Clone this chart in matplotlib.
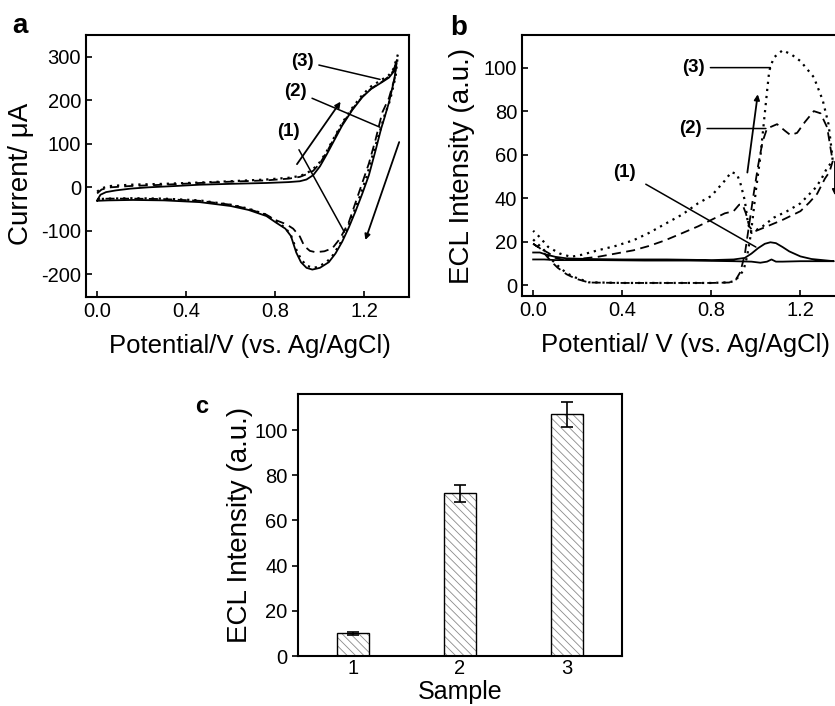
import matplotlib
matplotlib.use("Agg")
import matplotlib.pyplot as plt
import numpy as np

plt.rcParams['font.family'] = ['Liberation Sans', 'DejaVu Sans']
plt.rcParams['axes.unicode_minus'] = False
plt.rcParams['hatch.linewidth'] = 0.6

# ---------------- Panel a: CV curves ----------------
cv1_v = [0.00, 0.015, 0.04, 0.085, 0.15, 0.23, 0.35, 0.46, 0.6, 0.76, 0.86, 0.91, 0.94, 0.97, 1.0, 1.03,
         1.056, 1.1, 1.146, 1.19, 1.23, 1.28, 1.31, 1.33, 1.345,
         1.335, 1.31, 1.29, 1.275, 1.25, 1.22, 1.19, 1.16, 1.13, 1.1, 1.07, 1.04, 1.0, 0.966, 0.94, 0.915,
         0.894, 0.87, 0.845, 0.8, 0.76, 0.68, 0.6, 0.46, 0.3, 0.16, 0.05, 0.0]
cv1_i = [-30, -17, -11, -7, -3, 0, 3, 6, 8, 10, 12, 14, 18, 28, 48, 75,
         100, 142, 178, 207, 226, 242, 252, 265, 292,
         250, 195, 160, 135, 85, 28, -15, -55, -92, -125, -152, -172, -185, -189, -185, -172,
         -150, -112, -95, -80, -66, -52, -43, -34, -30, -29, -30, -31]

cv2_v = [0.00, 0.02, 0.06, 0.15, 0.3, 0.46, 0.6, 0.76, 0.86, 0.91, 0.94, 0.97, 1.0, 1.03, 1.056, 1.1,
         1.146, 1.19, 1.23, 1.28, 1.31, 1.33, 1.345,
         1.335, 1.31, 1.28, 1.25, 1.22, 1.18, 1.15, 1.13, 1.09, 1.056, 1.02, 0.98, 0.955, 0.93, 0.91,
         0.88, 0.85, 0.8, 0.76, 0.68, 0.6, 0.46, 0.3, 0.16, 0.05, 0.0]
cv2_i = [-14, -5, 0, 3, 6, 10, 13, 16, 20, 24, 30, 38, 55, 80, 105, 145,
         180, 208, 227, 243, 255, 268, 290,
         250, 205, 172, 110, 55, -5, -50, -80, -118, -140, -147, -149, -146, -135, -113,
         -95, -85, -75, -63, -50, -40, -31, -27, -26, -26, -27]

cv3_v = [0.00, 0.02, 0.06, 0.15, 0.3, 0.46, 0.6, 0.76, 0.86, 0.91, 0.94, 0.97, 1.0, 1.03, 1.056, 1.1,
         1.146, 1.19, 1.23, 1.28, 1.31, 1.33, 1.35,
         1.34, 1.315, 1.29, 1.27, 1.24, 1.21, 1.18, 1.15, 1.12, 1.09, 1.06, 1.03, 0.99, 0.97, 0.94, 0.915,
         0.894, 0.87, 0.845, 0.8, 0.76, 0.68, 0.6, 0.46, 0.3, 0.16, 0.05, 0.0]
cv3_i = [-10, -2, 3, 6, 8, 11, 14, 18, 22, 26, 32, 42, 58, 82, 107, 148,
         183, 212, 232, 248, 258, 272, 305,
         255, 200, 165, 130, 80, 25, -20, -60, -98, -130, -155, -172, -183, -185, -180, -165,
         -143, -110, -93, -78, -63, -49, -40, -30, -26, -25, -26, -27]

a_xticks = [0.0, 0.4, 0.8, 1.2]
a_yticks = [-200, -100, 0, 100, 200, 300]

# ---------------- Panel b: ECL curves ----------------
ecl1_v = [0.0, 0.03, 0.06, 0.1, 0.15, 0.25, 0.4, 0.6, 0.8, 0.9, 0.95, 0.98, 1.01, 1.04, 1.065, 1.09, 1.12,
          1.15, 1.2, 1.25, 1.3, 1.35,
          1.3, 1.2, 1.12, 1.09, 1.07, 1.05, 1.02, 0.98, 0.9, 0.7, 0.5, 0.3, 0.1, 0.05, 0.0]
ecl1_i = [15, 15, 14, 13, 12.3, 12, 11.8, 11.8, 11.5, 11.8, 12.5, 14.5, 17, 19, 19.7, 19.3, 17.5,
          15.5, 13.2, 12, 11.5, 11,
          11, 11, 10.8, 10.8, 11.8, 10.8, 10.3, 10.8, 11, 11.3, 11.3, 11.5, 11.5, 11.8, 11.8]

ecl2_v = [0.0, 0.03, 0.055, 0.08, 0.11, 0.15, 0.19, 0.25, 0.4, 0.6, 0.8, 0.88, 0.91, 0.93, 0.95, 0.97,
          0.99, 1.01, 1.03, 1.05, 1.095, 1.13, 1.155, 1.185, 1.22, 1.26, 1.29, 1.32, 1.335, 1.345,
          1.33, 1.31, 1.275, 1.24, 1.2, 1.12, 1.05, 0.99, 0.97, 0.955, 0.94, 0.925, 0.9, 0.86, 0.8,
          0.74, 0.66, 0.59, 0.52, 0.45, 0.37, 0.29, 0.2, 0.14, 0.1, 0.07, 0.03, 0.0]
ecl2_i = [19, 17, 14, 11, 8, 5, 3, 1.2, 1, 1, 1, 1.2, 2.5, 6, 14, 28,
          42, 55, 66, 72, 74, 71, 69, 70, 75, 80, 79, 72.5, 63, 57,
          52, 49, 42, 38, 34, 30, 27, 24.5, 27, 33, 37, 37, 34, 33, 30,
          27, 23.5, 20.5, 18, 16, 14.5, 13, 12, 11.5, 12.5, 14.7, 17, 19]

ecl3_v = [0.0, 0.03, 0.055, 0.08, 0.11, 0.15, 0.19, 0.25, 0.4, 0.6, 0.8, 0.88, 0.9, 0.925, 0.945, 0.96,
          0.975, 0.985, 1.0, 1.02, 1.035, 1.05, 1.06, 1.08, 1.12, 1.16, 1.2, 1.26, 1.3, 1.326, 1.34, 1.345,
          1.32, 1.295, 1.27, 1.2, 1.14, 1.08, 1.03, 0.98, 0.965, 0.95, 0.93, 0.915, 0.89, 0.86, 0.8,
          0.74, 0.67, 0.59, 0.52, 0.45, 0.37, 0.29, 0.22, 0.17, 0.12, 0.067, 0.03, 0.0]
ecl3_i = [21, 18, 15.5, 12, 9, 5.5, 3.5, 1.3, 1, 1, 1, 1.3, 1.8, 4, 7, 13,
          22, 30, 43.6, 59, 74, 89, 98.6, 104.6, 108, 106, 103, 95.6, 85, 74, 62, 57,
          54, 49, 45, 37.6, 34, 31, 27, 24, 28, 39, 47, 51, 52, 48, 41,
          37.6, 32.5, 28, 24, 20.6, 18, 16, 14, 13, 14.5, 17.6, 22, 25]

b_xticks = [0.0, 0.4, 0.8, 1.2]
b_yticks = [0, 20, 40, 60, 80, 100]

# ---------------- Panel c: bar chart ----------------
samples = [1, 2, 3]
sample_labels = ['1', '2', '3']
ecl_mean = [10, 72, 107]
ecl_err = [0.5, 3.7, 5.5]
c_yticks = [0, 20, 40, 60, 80, 100]

W, H = 835, 706
fig = plt.figure(figsize=(W / 100, H / 100), dpi=100)

def px_axes(left, top, right, bottom):
    return fig.add_axes([left / W, 1 - bottom / H, (right - left) / W, (bottom - top) / H])

TICK_FS = 14.5
YLABEL_FS = 20
XLABEL_FS = 18.5
lw = 1.3
DOTS = (1, 2.2)
DASH = (5, 3)

# ----- a -----
axa = px_axes(86, 35, 409, 297)
axa.plot(cv1_v, cv1_i, '-', color='black', lw=lw)
axa.plot(cv2_v, cv2_i, '--', color='black', lw=lw, dashes=DASH)
axa.plot(cv3_v, cv3_i, ':', color='black', lw=lw + 0.3, dashes=DOTS)
axa.set_xlim(-0.05, 1.4)
axa.set_ylim(-252, 350)
axa.set_xticks(a_xticks)
axa.set_xticklabels([f'{t:.1f}' for t in a_xticks])
axa.set_yticks(a_yticks)
axa.tick_params(direction='in', labelsize=TICK_FS, length=4, width=1.2)
axa.set_ylabel('Current/ μA', fontsize=YLABEL_FS)
axa.set_xlabel('Potential/V (vs. Ag/AgCl)', fontsize=XLABEL_FS)
axa.yaxis.set_label_coords(-0.162, 0.47)
axa.xaxis.set_label_coords(0.506, -0.14)
for s in axa.spines.values():
    s.set_linewidth(1.5)
# arrows
axa.annotate('', xy=(1.10, 202), xytext=(0.89, 48),
             arrowprops=dict(arrowstyle='-|>', color='black', lw=1.3, mutation_scale=8))
axa.annotate('', xy=(1.20, -127), xytext=(1.36, 110),
             arrowprops=dict(arrowstyle='-|>', color='black', lw=1.3, mutation_scale=8))
# labels
axa.annotate('(3)', xy=(1.27, 248), xytext=(0.92, 290), fontsize=13.5, fontweight='bold',
             ha='center', va='center', arrowprops=dict(arrowstyle='-', color='black', lw=1.1, shrinkA=2, shrinkB=0))
axa.annotate('(2)', xy=(1.27, 138), xytext=(0.89, 221), fontsize=13.5, fontweight='bold',
             ha='center', va='center', arrowprops=dict(arrowstyle='-', color='black', lw=1.1, shrinkA=2, shrinkB=0))
axa.annotate('(1)', xy=(1.11, -103), xytext=(0.86, 129), fontsize=13.5, fontweight='bold',
             ha='center', va='center', arrowprops=dict(arrowstyle='-', color='black', lw=1.1, shrinkA=6, shrinkB=0))

# ----- b -----
axb = px_axes(522, 35, 845, 296)
axb.plot(ecl1_v, ecl1_i, '-', color='black', lw=lw)
axb.plot(ecl2_v, ecl2_i, '--', color='black', lw=lw, dashes=DASH)
axb.plot(ecl3_v, ecl3_i, ':', color='black', lw=lw + 0.3, dashes=DOTS)
axb.set_xlim(-0.05, 1.4)
axb.set_ylim(-5, 115)
axb.set_xticks(b_xticks)
axb.set_xticklabels([f'{t:.1f}' for t in b_xticks])
axb.set_yticks(b_yticks)
axb.tick_params(direction='in', labelsize=TICK_FS, length=4, width=1.2)
axb.set_ylabel('ECL Intensity (a.u.)', fontsize=YLABEL_FS)
axb.set_xlabel('Potential/ V (vs. Ag/AgCl)', fontsize=XLABEL_FS)
axb.yaxis.set_label_coords(-0.145, 0.5)
axb.xaxis.set_label_coords(0.506, -0.14)
for s in axb.spines.values():
    s.set_linewidth(1.5)
axb.annotate('', xy=(1.01, 89), xytext=(0.96, 50.5),
             arrowprops=dict(arrowstyle='-|>', color='black', lw=1.3, mutation_scale=8))
axb.annotate('', xy=(1.355, 40), xytext=(1.355, 58),
             arrowprops=dict(arrowstyle='-|>', color='black', lw=1.3, mutation_scale=8))
axb.annotate('(3)', xy=(1.065, 100), xytext=(0.72, 100), fontsize=13.5, fontweight='bold',
             ha='center', va='center', arrowprops=dict(arrowstyle='-', color='black', lw=1.1, shrinkA=2, shrinkB=0))
axb.annotate('(2)', xy=(1.045, 72), xytext=(0.705, 72), fontsize=13.5, fontweight='bold',
             ha='center', va='center', arrowprops=dict(arrowstyle='-', color='black', lw=1.1, shrinkA=2, shrinkB=0))
axb.annotate('(1)', xy=(1.0, 17.5), xytext=(0.41, 52), fontsize=13.5, fontweight='bold',
             ha='center', va='center', arrowprops=dict(arrowstyle='-', color='black', lw=1.1, shrinkA=6, shrinkB=0))

# ----- c -----
axc = px_axes(298, 394, 622, 656)
axc.bar(samples, ecl_mean, width=0.3, color='white', edgecolor='#8a8a8a', hatch='\\\\\\\\', lw=0, zorder=2)
axc.bar(samples, ecl_mean, width=0.3, fill=False, edgecolor='black', lw=1.0, zorder=3)
axc.errorbar(samples, ecl_mean, yerr=ecl_err, fmt='none', ecolor='black', elinewidth=1.2, capsize=4,
             capthick=1.2, zorder=4)
axc.set_xlim(0.49, 3.51)
axc.set_ylim(0, 116)
axc.set_xticks(samples)
axc.set_xticklabels(sample_labels)
axc.set_yticks(c_yticks)
axc.tick_params(axis='y', direction='out', labelsize=TICK_FS, length=4, width=1.2)
axc.tick_params(axis='x', direction='out', labelsize=TICK_FS, length=0, pad=2)
axc.set_ylabel('ECL Intensity (a.u.)', fontsize=YLABEL_FS)
axc.set_xlabel('Sample', fontsize=18)
axc.yaxis.set_label_coords(-0.14, 0.5)
axc.xaxis.set_label_coords(0.5, -0.092)
for s in axc.spines.values():
    s.set_linewidth(1.5)

# panel letters
fig.text(12 / W, 1 - 33 / H, 'a', fontsize=20, fontweight='bold', va='baseline')
fig.text(450 / W, 1 - 35 / H, 'b', fontsize=20, fontweight='bold', va='baseline')
fig.text(195 / W, 1 - 413 / H, 'c', fontsize=17, fontweight='bold', va='baseline')

fig.savefig('out.png', dpi=100)
